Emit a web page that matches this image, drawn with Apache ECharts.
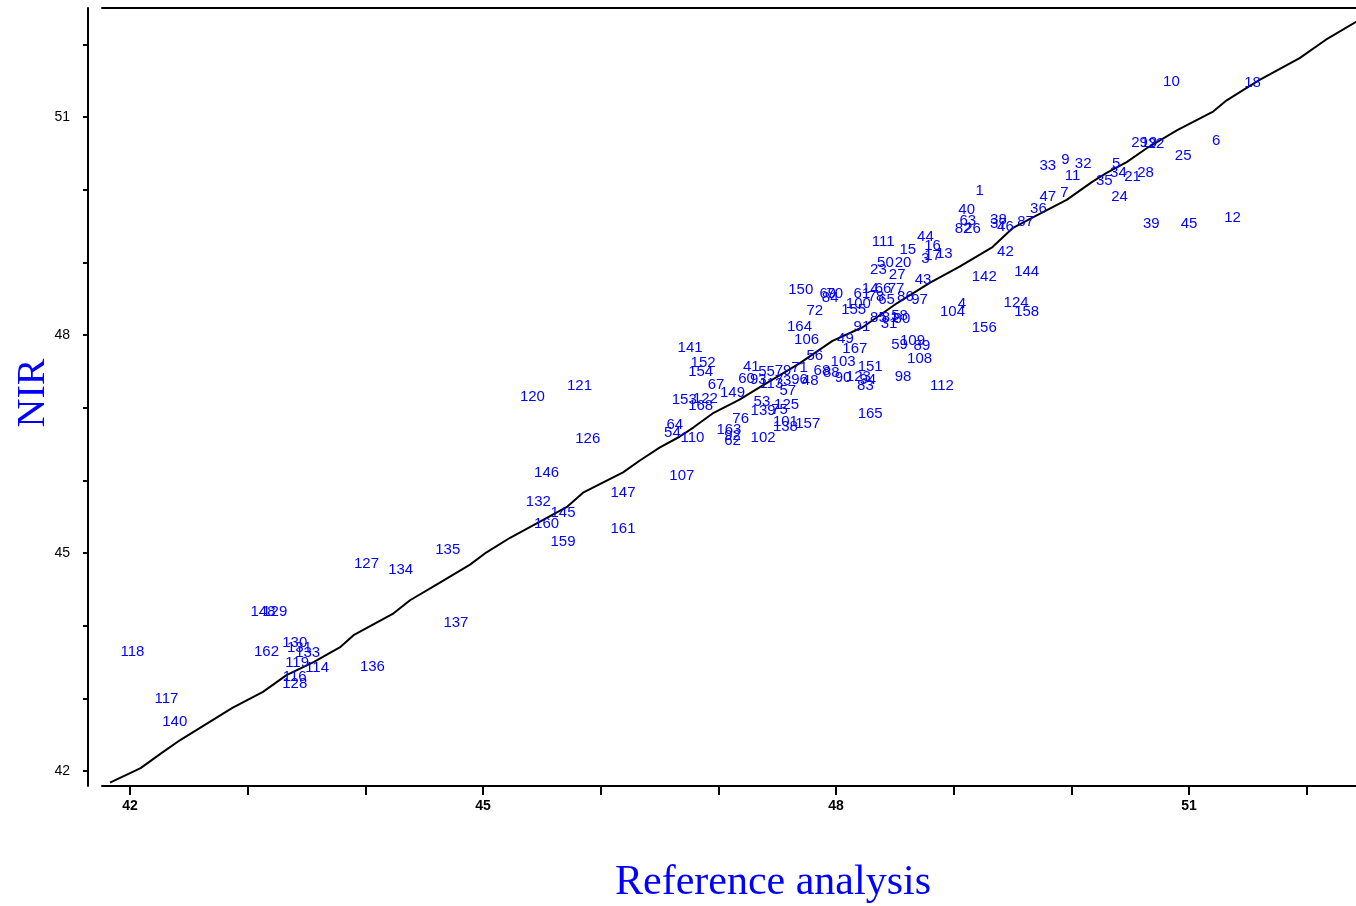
<!DOCTYPE html>
<html><head><meta charset="utf-8">
<script src="https://cdn.jsdelivr.net/npm/echarts@6/dist/echarts.min.js"></script>
<style>html,body{margin:0;padding:0;background:#fff}#c{width:1356px;height:906px}</style>
</head><body><div id="c"></div>
<script>
// sample identifiers (labels drawn at each point)
const sampleIds = [10,18,29,19,22,6,25,33,9,32,11,5,34,21,28,35,1,47,7,24,40,36,63,38,37,82,26,46,87,39,45,12,
  3,17,13,42,142,144,104,4,124,158,156,111,44,15,16,50,20,23,27,43,150,69,70,84,72,164,106,91,49,167,59,109,89,108,
  56,103,151,98,112,90,123,94,83,165,57,125,157,141,152,154,67,41,60,149,53,139,75,76,64,54,110,163,92,62,102,101,138,
  107,121,120,126,146,147,132,145,160,159,161,118,148,129,162,130,131,133,119,114,116,128,136,137,117,140,127,134,135,
  168,153,122,55,79,71,68,88,93,113,73,96,48,
  61,14,66,77,78,65,86,97,100,155,58,85,81,80,31];
// reference analysis (x)
const refValues = [50.85,51.54,50.58,50.66,50.72,51.23,50.95,49.80,49.95,50.10,50.01,50.38,50.40,50.52,50.63,50.28,49.22,49.80,49.94,50.41,49.11,49.72,49.12,49.38,49.38,49.08,49.16,49.44,49.61,50.68,51.00,51.37,
  48.76,48.82,48.92,49.44,49.26,49.62,48.99,49.07,49.53,49.62,49.26,48.40,48.76,48.61,48.82,48.42,48.57,48.36,48.52,48.74,47.70,47.93,47.99,47.95,47.82,47.69,47.75,48.22,48.08,48.16,48.54,48.65,48.73,48.71,
  47.82,48.06,48.29,48.57,48.90,48.06,48.19,48.27,48.25,48.29,47.59,47.58,47.76,46.76,46.87,46.85,46.98,47.28,47.24,47.12,47.37,47.38,47.52,47.19,46.63,46.61,46.78,47.09,47.12,47.12,47.38,47.57,47.57,
  46.69,45.82,45.42,45.89,45.54,46.19,45.47,45.68,45.54,45.68,46.19,42.02,43.13,43.23,43.16,43.40,43.44,43.51,43.42,43.59,43.40,43.40,44.06,44.77,42.31,42.38,44.01,44.30,44.70,
  46.85,46.71,46.89,47.41,47.55,47.69,47.88,47.96,47.34,47.45,47.55,47.69,47.78,
  48.22,48.29,48.40,48.51,48.34,48.43,48.59,48.71,48.19,48.15,48.54,48.36,48.46,48.56,48.45];
// NIR prediction (y)
const nirValues = [51.48,51.47,50.64,50.64,50.63,50.67,50.46,50.33,50.41,50.35,50.19,50.35,50.23,50.17,50.23,50.12,49.98,49.90,49.95,49.90,49.72,49.73,49.57,49.59,49.53,49.46,49.46,49.49,49.56,49.53,49.53,49.61,
  49.05,49.09,49.11,49.14,48.80,48.87,48.32,48.43,48.44,48.32,48.10,49.28,49.35,49.17,49.22,48.99,48.99,48.89,48.83,48.76,48.62,48.56,48.56,48.51,48.33,48.11,47.93,48.11,47.95,47.81,47.86,47.92,47.85,47.67,
  47.71,47.63,47.56,47.42,47.30,47.41,47.42,47.38,47.30,46.91,47.23,47.04,46.78,47.82,47.61,47.49,47.31,47.56,47.39,47.20,47.08,46.95,46.97,46.84,46.76,46.65,46.58,46.69,46.61,46.55,46.58,46.80,46.73,
  46.06,47.30,47.15,46.57,46.10,45.83,45.70,45.55,45.40,45.15,45.33,43.64,44.19,44.19,43.64,43.76,43.69,43.62,43.49,43.42,43.29,43.20,43.44,44.04,43.00,42.67,44.85,44.77,45.04,
  47.02,47.11,47.12,47.49,47.50,47.55,47.50,47.48,47.38,47.33,47.37,47.38,47.37,
  48.56,48.63,48.63,48.63,48.52,48.48,48.52,48.48,48.43,48.34,48.26,48.23,48.23,48.22,48.15];
// fitted curve
const fitRef = [41.83,42.09,42.27,42.43,42.87,43.13,43.33,43.56,43.79,43.90,44.24,44.38,44.63,44.89,45.03,45.23,45.48,45.71,45.85,46.19,46.33,46.50,46.67,46.79,46.96,47.18,47.35,47.69,47.97,48.23,48.52,48.80,49.05,49.33,49.50,49.71,49.96,50.18,50.30,50.47,50.64,50.90,51.20,51.32,51.49,51.60,51.94,52.16,52.42];
const fitNir = [41.84,42.04,42.25,42.43,42.87,43.09,43.32,43.50,43.71,43.87,44.17,44.35,44.59,44.84,45.01,45.21,45.43,45.63,45.83,46.11,46.27,46.45,46.60,46.73,46.93,47.11,47.28,47.61,47.92,48.11,48.44,48.72,48.94,49.21,49.47,49.65,49.86,50.11,50.23,50.38,50.57,50.82,51.07,51.23,51.40,51.51,51.81,52.06,52.31];
const xTickValues = [42,43,44,45,46,47,48,49,50,51,52];
const xTickLabels = [42,45,48,51];
const yTickValues = [42,43,44,45,46,47,48,49,50,51,52];
const yTickLabels = [42,45,48,51];

const points = sampleIds.map((id, i) => [refValues[i], nirValues[i], id]);
const fitLine = fitRef.map((x, i) => [x, fitNir[i]]);

const chart = echarts.init(document.getElementById('c'), null, {renderer: 'canvas'});
const BLUE = '#0000ff';
chart.setOption({
  animation: false,
  backgroundColor: '#ffffff',
  grid: {left: 102, right: 0, top: 8, bottom: 120, containLabel: false},
  xAxis: [{
    type: 'value', min: 41.762, max: 52.419, position: 'bottom',
    axisLine: {show: true, onZero: false, lineStyle: {color: '#000', width: 2}},
    axisTick: {show: true, inside: false, length: 9, lineStyle: {color: '#000', width: 2}, customValues: xTickValues},
    axisLabel: {show: true, margin: 13, color: '#000', fontSize: 14, fontWeight: 'bold', fontFamily: 'Liberation Sans, Arial, sans-serif', customValues: xTickLabels},
    splitLine: {show: false}
  }, {
    type: 'value', min: 41.762, max: 52.419, position: 'top',
    axisLine: {show: true, onZero: false, lineStyle: {color: '#000', width: 2}},
    axisTick: {show: false}, axisLabel: {show: false}, splitLine: {show: false}
  }],
  yAxis: {
    type: 'value', min: 41.794, max: 52.5, offset: 14,
    axisLine: {show: true, onZero: false, lineStyle: {color: '#000', width: 2}},
    axisTick: {show: true, inside: false, length: 5, lineStyle: {color: '#000', width: 2}, customValues: yTickValues},
    axisLabel: {show: true, margin: 18, color: '#000', fontSize: 14, fontFamily: 'Liberation Sans, Arial, sans-serif', customValues: yTickLabels},
    splitLine: {show: false}
  },
  series: [{
    type: 'line', data: fitLine, showSymbol: false, symbol: 'none', silent: true,
    lineStyle: {color: '#000', width: 2}, z: 2
  }, {
    type: 'scatter', data: points, symbolSize: 1, itemStyle: {color: 'rgba(255,255,255,0)', opacity: 1}, silent: true, z: 3,
    label: {show: true, position: 'inside', formatter: p => String(p.value[2]), color: BLUE, opacity: 1,
      textBorderWidth: 0, fontSize: 15, fontFamily: 'Liberation Sans, Arial, sans-serif'},
    emphasis: {disabled: true},
    labelLayout: {hideOverlap: false}
  }],
  graphic: [{
    type: 'text', x: 33, y: 393, rotation: Math.PI / 2,
    style: {text: 'NIR', fill: BLUE, font: '40px "Liberation Serif", "Times New Roman", serif', textAlign: 'center', textVerticalAlign: 'middle'}
  }, {
    type: 'text', x: 773, y: 883,
    style: {text: 'Reference analysis', fill: BLUE, font: '42px "Liberation Serif", "Times New Roman", serif', textAlign: 'center', textVerticalAlign: 'middle'}
  }]
});
</script>
</body></html>
